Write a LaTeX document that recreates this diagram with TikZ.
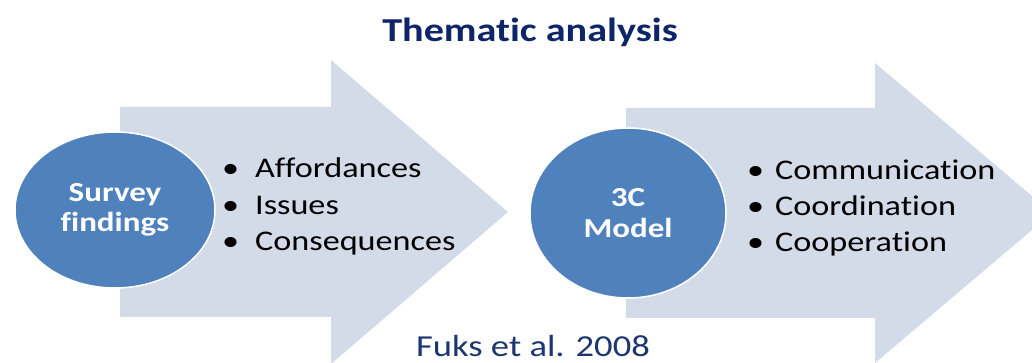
\documentclass[tikz,border=0pt]{standalone}
\usepackage{fontspec}
\setmainfont{Carlito}[FakeStretch=1.2, Ligatures=NoCommon,
  RawFeature={-liga;-clig;-calt;-rlig;-dlig}]
\usetikzlibrary{shapes.geometric}
\definecolor{arrowfill}{RGB}{211,219,233}
\definecolor{hubblue}{RGB}{79,129,189}
\definecolor{titlenavy}{RGB}{14,38,104}
\definecolor{citenavy}{RGB}{28,54,112}

\begin{document}
\begin{tikzpicture}[x=1pt, y=1pt,
  shaft/.style={fill=arrowfill},
  hub/.style={ellipse, draw=white, line width=1.5pt, fill=hubblue,
              text=white, align=center, inner sep=0pt,
              font=\fontsize{27.5}{30.5}\selectfont\bfseries},
  item/.style={anchor=base west, inner sep=0pt,
               font=\fontsize{28.5}{36}\selectfont}]
  \useasboundingbox (0,0) rectangle (1032,363);
  \clip (0,0) rectangle (1032,363);
  % big arrows
  \fill[shaft] (120,46) -- (120,256) -- (331,256) -- (331,303) -- (508,151)
               -- (331,-1) -- (331,46) -- cycle;
  \fill[shaft] (626,45) -- (626,255) -- (875,255) -- (875,300) -- (1052,150)
               -- (875,0) -- (875,45) -- cycle;
  % ellipses
  \node[hub, minimum width=200pt, minimum height=156pt] (survey)
       at (115,153) {Survey\\findings};
  \node[hub, minimum width=196pt, minimum height=170pt] (model)
       at (628,150) {3C\\Model};
  % bullet lists
  \foreach \n/\t/\y in {aff/Affordances/185, iss/Issues/148, con/Consequences/112}
    \node[item] (\n) at (222,\y) {\makebox[33pt][l]{\textbullet}\t};
  \foreach \n/\t/\y in {com/Communication/183, coo/Coordination/147, cop/Cooperation/111}
    \node[item] (\n) at (747,\y) {\makebox[28pt][l]{\textbullet}\t};
  % title and citation
  \node[font=\fontsize{33.5}{40}\selectfont\bfseries, text=titlenavy, anchor=base]
       (title) at (530,321) {Thematic analysis};
  \node[font=\fontsize{30.5}{36}\selectfont, text=citenavy, anchor=base,
        inner sep=0pt] (cite) at (533,6) {Fuks et al. 2008};
\end{tikzpicture}
\end{document}
